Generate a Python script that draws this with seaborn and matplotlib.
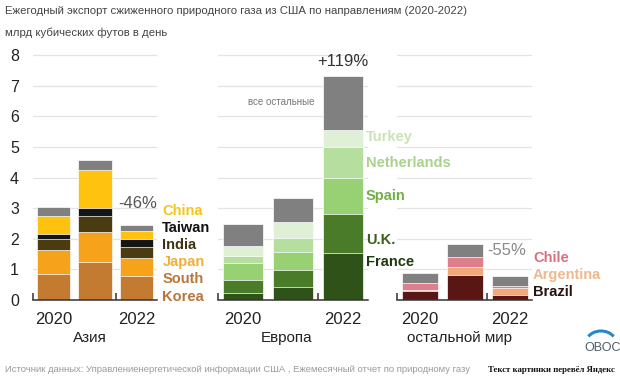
import matplotlib
matplotlib.use("Agg")
import matplotlib.pyplot as plt
from matplotlib.patches import Arc
import seaborn as sns
import pandas as pd
import numpy as np

# %% data (bcf/d)
years = ["2020", "2021", "2022"]

asia_names = ["South Korea", "Japan", "India", "Taiwan", "China", "other"]
asia_colors = ["#c27b30", "#f7a21b", "#4b3b10", "#151515", "#ffc20e", "#808080"]
asia_values = [
    [0.85, 1.23, 0.80],   # South Korea
    [0.80, 0.99, 0.58],   # Japan
    [0.34, 0.54, 0.36],   # India
    [0.16, 0.24, 0.25],   # Taiwan
    [0.59, 1.26, 0.27],   # China
    [0.30, 0.33, 0.20],   # other
]

europe_names = ["France", "U.K.", "Spain", "Netherlands", "Turkey", "other"]
europe_colors = ["#2f5219", "#4a7b29", "#97d174", "#b6de9e", "#e0f0d6", "#808080"]
europe_values = [
    [0.22, 0.43, 1.55],   # France
    [0.43, 0.54, 1.26],   # U.K.
    [0.56, 0.60, 1.17],   # Spain
    [0.22, 0.46, 1.01],   # Netherlands
    [0.35, 0.53, 0.58],   # Turkey
    [0.71, 0.77, 1.75],   # other
]

rest_names = ["Brazil", "Argentina", "Chile", "other"]
rest_colors = ["#5a1515", "#f0a97c", "#de7f8e", "#808080"]
rest_values = [
    [0.28, 0.83, 0.17],   # Brazil
    [0.05, 0.24, 0.22],   # Argentina
    [0.22, 0.34, 0.08],   # Chile
    [0.33, 0.41, 0.32],   # other
]

# label text, colour, y position for the side labels
asia_labels = [("China", "#f5c518", 2.91), ("Taiwan", "#111111", 2.35),
               ("India", "#3f3210", 1.80), ("Japan", "#f4ad3a", 1.24),
               ("South", "#b8763a", 0.69), ("Korea", "#b8763a", 0.10)]
europe_labels = [("Turkey", "#c9e3b7", 5.33), ("Netherlands", "#a9d28d", 4.48),
                 ("Spain", "#74ae4c", 3.40), ("U.K.", "#3b5e22", 1.96),
                 ("France", "#1f3a10", 1.24)]
rest_labels = [("Chile", "#d96f83", 1.37), ("Argentina", "#eeb98e", 0.82),
               ("Brazil", "#2a1010", 0.26)]

sns.set_style("white")
plt.rcParams["font.family"] = ["Liberation Sans", "DejaVu Sans"]

W, H = 620, 382
fig = plt.figure(figsize=(W / 100, H / 100), dpi=100)

y0, ymax, unit = 300, 8.05, 30.6


def make_ax(x_left, x_right):
    h = ymax * unit
    ax = fig.add_axes([x_left / W, (H - y0) / H, (x_right - x_left) / W, h / H])
    ax.patch.set_alpha(0)
    return ax


def stacked(ax, values, colors):
    cum = np.cumsum(np.array(values), axis=0)
    # draw tallest layer first, then overlay the lower ones
    for i in range(len(values) - 1, -1, -1):
        df = pd.DataFrame({"year": years, "val": cum[i]})
        sns.barplot(data=df, x="year", y="val", color=colors[i], width=0.8,
                    saturation=1, edgecolor="white", linewidth=0.5, ax=ax)
    ax.set_xlim(-0.5, 2.5)
    ax.set_ylim(0, ymax)
    ax.set_xlabel("")
    ax.set_ylabel("")
    ax.set_axisbelow(True)
    ax.yaxis.grid(True, color="#e3e3e3", linewidth=0.9)
    ax.set_yticks(range(0, 9))
    for s in ["top", "left", "right"]:
        ax.spines[s].set_visible(False)
    ax.spines["bottom"].set_color("#333333")
    ax.spines["bottom"].set_linewidth(1.1)
    ax.set_xticks([0, 2])
    ax.set_xticklabels(["2020", "2022"], fontsize=12, color="#222222")
    ax.set_xticks([-0.5, 1.5], minor=True)
    ax.tick_params(axis="x", which="major", length=0, pad=9)
    ax.tick_params(axis="x", which="minor", direction="in", length=5,
                   width=1.1, color="#333333", bottom=True)
    ax.tick_params(axis="y", length=0)


def side_labels(ax, x, labels):
    for text, color, y in labels:
        ax.text(x, y, text, color=color, fontsize=10.5, fontweight="bold",
                va="center", ha="left", clip_on=False, zorder=5)


ax1 = make_ax(33, 157)
ax2 = make_ax(218, 368)
ax3 = make_ax(397, 532)

stacked(ax1, asia_values, asia_colors)
stacked(ax2, europe_values, europe_colors)
stacked(ax3, rest_values, rest_colors)

ax1.tick_params(axis="y", labelsize=11.5, labelcolor="#222222", pad=10)
ax2.set_yticklabels([])
ax3.set_yticklabels([])

side_labels(ax1, 2.63, asia_labels)
side_labels(ax2, 2.46, europe_labels)
side_labels(ax3, 2.52, rest_labels)

ax1.text(2.04, 3.14, "-46%", fontsize=12, color="#555555", ha="center", va="center")
ax2.text(2.0, 7.8, "+119%", fontsize=12, color="#333333", ha="center", va="center")
ax3.text(1.94, 1.63, "-55%", fontsize=12, color="#8a8a8a", ha="center", va="center")
ax2.text(0.76, 6.47, "все остальные", fontsize=7, color="#777777",
         ha="center", va="center")

for ax, name in [(ax1, "Азия"), (ax2, "Европа"), (ax3, "остальной мир")]:
    ax.text(0.88, -0.155, name, fontsize=11, color="#222222", ha="center",
            va="center", transform=ax.get_xaxis_transform())

fig.text(5 / W, 1 - 11 / H,
         "Ежегодный экспорт сжиженного природного газа из США по направлениям (2020-2022)",
         fontsize=8.2, color="#444444", ha="left", va="center")
fig.text(5 / W, 1 - 33 / H, "млрд кубических футов в день",
         fontsize=8.2, color="#444444", ha="left", va="center")

fig.text(5 / W, 1 - 370 / H,
         "Источник данных: Управлениенергетической информации США , Ежемесячный отчет по природному газу",
         fontsize=6.8, color="#9a9a9a", ha="left", va="center")
fig.text(615 / W, 1 - 370 / H, "Текст картинки перевёл Яндекс",
         fontsize=6.3, color="#111111", ha="right", va="center",
         family=["Liberation Serif", "DejaVu Serif"], fontweight="bold")

# logo
fig.text(603 / W, 1 - 348 / H, "ОВОС", fontsize=9, color="#4f5d6b",
         ha="center", va="center")
fig.add_artist(Arc((601 / W, 1 - 343 / H), 30 / W, 24 / H, theta1=40, theta2=140,
                   transform=fig.transFigure, color="#2588c8", linewidth=2.2))

fig.savefig("out.png", dpi=100)
